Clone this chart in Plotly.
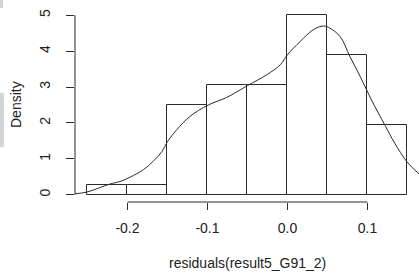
import plotly.graph_objects as go

# Histogram (density scale), bin width 0.05
bin_left = [-0.25, -0.20, -0.15, -0.10, -0.05, 0.00, 0.05, 0.10]
bin_width = 0.05
density = [0.278, 0.278, 2.5, 3.056, 3.056, 5.0, 3.889, 1.944]

# Kernel density curve
kde_x = [-0.2656, -0.251, -0.222, -0.2094, -0.1969, -0.180, -0.168, -0.157, -0.150, -0.1385,
         -0.122, -0.099, -0.076, -0.050, -0.026, -0.009, 0.000, 0.016, 0.032, 0.045,
         0.053, 0.066, 0.078, 0.091, 0.105, 0.122, 0.134, 0.149, 0.1644]
kde_y = [0.03, 0.075, 0.30, 0.37, 0.49, 0.70, 0.93, 1.20, 1.48, 1.81,
         2.18, 2.50, 2.71, 3.04, 3.34, 3.62, 3.90, 4.27, 4.59, 4.70,
         4.64, 4.40, 3.85, 3.29, 2.64, 1.93, 1.44, 0.93, 0.58]

x_ticks = [-0.2, -0.1, 0.0, 0.1]
x_tick_text = ["-0.2", "-0.1", "0.0", "0.1"]
y_ticks = [0, 1, 2, 3, 4, 5]
y_tick_text = ["0", "1", "2", "3", "4", "5"]

W, H = 419, 274
ML, MR, MT, MB = 75, 0, 8, 72
PW, PH = W - ML - MR, H - MT - MB

ink = "#2b2b2b"
font = dict(family="Liberation Sans, Arial, sans-serif", size=14, color="#222")

fig = go.Figure()
fig.add_trace(go.Bar(
    x=[b + bin_width / 2 for b in bin_left], y=density, width=bin_width,
    marker=dict(color="white", line=dict(color=ink, width=1)),
    hoverinfo="skip", showlegend=False))
fig.add_trace(go.Scatter(
    x=kde_x, y=kde_y, mode="lines", line=dict(color=ink, width=1, shape="spline", smoothing=1.0),
    hoverinfo="skip", showlegend=False))

fig.update_layout(
    width=W, height=H, margin=dict(l=ML, r=MR, t=MT, b=MB, pad=0),
    plot_bgcolor="white", paper_bgcolor="white", font=font, bargap=0,
    xaxis=dict(range=[-0.2656, 0.1644], showgrid=False, zeroline=False, showline=False,
               tickmode="array", tickvals=x_ticks, ticktext=x_tick_text,
               ticks="outside", ticklen=7, tickcolor=ink, tickwidth=1,
               ticklabelstandoff=6, fixedrange=True),
    yaxis=dict(range=[-0.2, 5.2], showgrid=False, zeroline=False, showline=False,
               tickmode="array", tickvals=y_ticks, ticktext=y_tick_text,
               ticks="outside", ticklen=8, tickcolor=ink, tickwidth=1, tickangle=-90,
               ticklabelstandoff=10, fixedrange=True),
)

# axis lines spanning only the tick range (R style)
fig.add_shape(type="line", xref="x", yref="paper", x0=x_ticks[0], x1=x_ticks[-1], y0=0, y1=0,
              line=dict(color=ink, width=1))
fig.add_shape(type="line", xref="paper", yref="y", x0=0, x1=0, y0=y_ticks[0], y1=y_ticks[-1],
              line=dict(color=ink, width=1))

def px_to_paper_x(px):
    return (px - ML) / PW

def px_to_paper_y(py):
    return (H - MB - py) / PH

# grey strip artifacts at left edge
fig.add_shape(type="rect", xref="paper", yref="paper", x0=px_to_paper_x(0), x1=px_to_paper_x(4),
              y0=px_to_paper_y(147), y1=px_to_paper_y(93), fillcolor="#d4d4d4", line=dict(width=0))
fig.add_shape(type="rect", xref="paper", yref="paper", x0=px_to_paper_x(0), x1=px_to_paper_x(3),
              y0=px_to_paper_y(8), y1=px_to_paper_y(0), fillcolor="#d4d4d4", line=dict(width=0))

fig.add_annotation(text="Density", xref="paper", yref="paper", x=px_to_paper_x(16), y=0.5,
                   textangle=-90, showarrow=False, xanchor="center", yanchor="middle", font=font)
fig.add_annotation(text="residuals(result5_G91_2)", xref="paper", yref="paper", x=0.5,
                   y=px_to_paper_y(263), showarrow=False, xanchor="center", yanchor="middle", font=font)

fig.write_html("out.html", config={"displayModeBar": False},
               post_script="document.body.style.margin='0';document.body.style.overflow='hidden';")
